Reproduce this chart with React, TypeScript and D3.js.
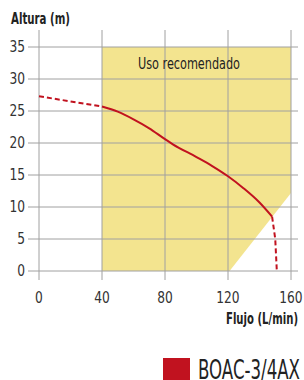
import React from 'react';
import * as d3 from 'd3';

// flow (L/min) vs head (m)
const xTicks: number[] = [0, 40, 80, 120, 160];
const yTicks: number[] = [0, 5, 10, 15, 20, 25, 30, 35];
const dashedStart: [number, number][] = [[0, 27.3], [40, 25.7]];
const solidCurve: [number, number][] = [
  [40, 25.7], [50, 24.9], [60, 23.7], [70, 22.3], [80, 20.6], [85, 19.8],
  [100, 17.8], [110, 16.4], [120, 14.8], [130, 12.9], [140, 10.7], [148, 8.5],
];
const dashedEnd: [number, number][] = [[148, 8.5], [150, 5], [151, 0]];
// recommended-use zone
const zone: [number, number][] = [[40, 0], [40, 35], [160, 35], [160, 12.2], [121, 0]];
const seriesName = 'BOAC-3/4AX';

const font = '"DejaVu Sans Condensed", "Liberation Sans Narrow", sans-serif';
const red = '#c1121f';

const App = () => {
  const x = d3.scaleLinear().domain([0, 160]).range([39, 291]);
  const y = d3.scaleLinear().domain([0, 35]).range([271, 47]);

  const line = d3.line<[number, number]>()
    .x(d => x(d[0]))
    .y(d => y(d[1]))
    .curve(d3.curveMonotoneX);
  const straight = d3.line<[number, number]>()
    .x(d => x(d[0]))
    .y(d => y(d[1]));

  return (
    <svg width={304} height={380} style={{position: 'absolute', left: 0, top: 0, background: '#fff'}}>
      <text x={11} y={24} fontFamily={font} fontSize={16} fontWeight="bold" fill="#222"
        textLength={59} lengthAdjust="spacingAndGlyphs">Altura (m)</text>

      <path d={straight(zone) + 'Z'} fill="#f3e48f" />

      {/* grid */}
      {xTicks.map(t => (
        <line key={'vx' + t} x1={x(t)} x2={x(t)} y1={30} y2={280} stroke="#a0a0a0" strokeWidth={1} />
      ))}
      {yTicks.map(t => (
        <line key={'hy' + t} x1={28} x2={298} y1={y(t)} y2={y(t)} stroke="#a0a0a0" strokeWidth={1} />
      ))}

      {yTicks.map(t => (
        <text key={'ty' + t} x={25 / 0.85} y={y(t) + 5.5} textAnchor="end" fontFamily={font} fontSize={16} fill="#333"
          transform="scale(0.85,1)">{t}</text>
      ))}
      {xTicks.map(t => (
        <text key={'tx' + t} x={x(t) / 0.85} y={303} textAnchor="middle" fontFamily={font} fontSize={16} fill="#333"
          transform="scale(0.85,1)">{t}</text>
      ))}

      <text x={189} y={69} textAnchor="middle" fontFamily={font} fontSize={16} fill="#222"
        textLength={102} lengthAdjust="spacingAndGlyphs">Uso recomendado</text>

      <path d={line(dashedStart) || ''} fill="none" stroke={red} strokeWidth={2} strokeDasharray="5,3" />
      <path d={line(solidCurve) || ''} fill="none" stroke={red} strokeWidth={2} />
      <path d={straight(dashedEnd) || ''} fill="none" stroke={red} strokeWidth={2} strokeDasharray="5,3" />

      <text x={226} y={324} fontFamily={font} fontSize={15} fontWeight="bold" fill="#222"
        textLength={72} lengthAdjust="spacingAndGlyphs">Flujo (L/min)</text>

      <rect x={163} y={358} width={27} height={22} fill={red} />
      <text x={198} y={379} fontFamily={font} fontSize={27} fill="#222"
        textLength={102} lengthAdjust="spacingAndGlyphs">{seriesName}</text>
    </svg>
  );
};

export default App;
